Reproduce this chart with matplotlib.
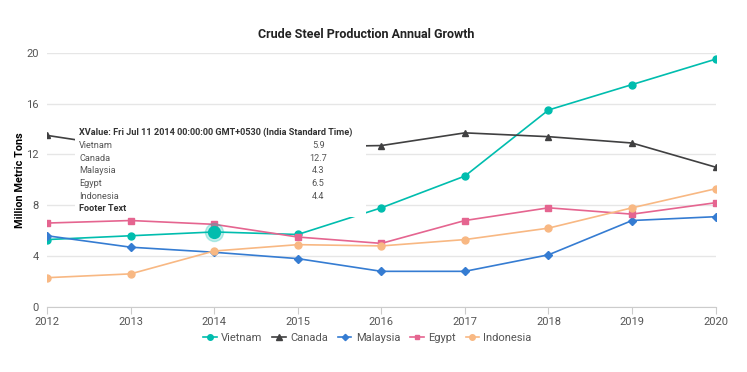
import matplotlib
matplotlib.use("Agg")
import matplotlib.pyplot as plt
from matplotlib.patches import Rectangle

plt.rcParams['font.family'] = ['Roboto', 'DejaVu Sans']

years = [2012, 2013, 2014, 2015, 2016, 2017, 2018, 2019, 2020]
vietnam = [5.3, 5.6, 5.9, 5.7, 7.8, 10.3, 15.5, 17.5, 19.5]
canada = [13.5, 12.5, 12.7, 12.6, 12.7, 13.7, 13.4, 12.9, 11.0]
malaysia = [5.6, 4.7, 4.3, 3.8, 2.8, 2.8, 4.1, 6.8, 7.1]
egypt = [6.6, 6.8, 6.5, 5.5, 5.0, 6.8, 7.8, 7.3, 8.2]
indonesia = [2.3, 2.6, 4.4, 4.9, 4.8, 5.3, 6.2, 7.8, 9.3]

tip_names = ['Vietnam', 'Canada', 'Malaysia', 'Egypt', 'Indonesia']
tip_values = ['5.9', '12.7', '4.3', '6.5', '4.4']
tip_header = 'XValue: Fri Jul 11 2014 00:00:00 GMT+0530 (India Standard Time)'
hover_idx = 2

series = [
    ('Vietnam', vietnam, '#00bdae', 'o', 5),
    ('Canada', canada, '#404041', '^', 5),
    ('Malaysia', malaysia, '#357cd2', 'D', 4),
    ('Egypt', egypt, '#e56590', 's', 4.3),
    ('Indonesia', indonesia, '#f8b883', 'o', 5),
]

fig = plt.figure(figsize=(7.47, 3.72), dpi=100)
ax = fig.add_axes([0.063, 0.175, 0.895, 0.683])

for name, vals, col, mk, ms in series:
    ax.plot(years, vals, color=col, marker=mk, markersize=ms, linewidth=1.2, label=name, zorder=3)

# hovered point
ax.plot(years[hover_idx], vietnam[hover_idx], 'o', color='#00bdae', markersize=13, alpha=0.25, zorder=4)
ax.plot(years[hover_idx], vietnam[hover_idx], 'o', color='#00bdae', markersize=8.5, zorder=4)

ax.set_xlim(2012, 2020)
ax.set_ylim(0, 20)
ax.set_yticks([0, 4, 8, 12, 16, 20])
ax.set_xticks(years)
ax.grid(axis='y', color='#e6e6e6', linewidth=1)
ax.set_axisbelow(True)
for s in ['top', 'right', 'left']:
    ax.spines[s].set_visible(False)
ax.spines['bottom'].set_color('#cccccc')
ax.tick_params(axis='x', colors='#cccccc', length=5, labelcolor='#555555', labelsize=8, pad=2)
ax.tick_params(axis='y', length=0, labelcolor='#555555', labelsize=8, pad=6)
ax.set_ylabel('Million Metric Tons', fontsize=7.8, fontweight='bold', labelpad=1)

fig.text(0.49, 0.907, 'Crude Steel Production Annual Growth', ha='center', va='center',
         fontsize=9, fontweight='bold', color='#222222')

# tooltip
fig.patches.append(Rectangle((0.100, 0.418), 0.39, 0.253, transform=fig.transFigure,
                             facecolor='white', edgecolor='none', zorder=5))
top = 0.643
step = 0.0341
fs = 6.6
fig.text(0.106, top, tip_header, fontsize=fs, fontweight='bold', color='#333333', va='center', zorder=6)
for i, (n, v) in enumerate(zip(tip_names, tip_values)):
    y = top - step * (i + 1)
    fig.text(0.106, y, n, fontsize=fs, color='#555555', va='center', zorder=6)
    fig.text(0.426, y, v, fontsize=fs, color='#555555', va='center', ha='center', zorder=6)
fig.text(0.106, top - step * 6, 'Footer Text', fontsize=fs, fontweight='bold', color='#333333', va='center', zorder=6)

leg = fig.legend(loc='center', bbox_to_anchor=(0.492, 0.092), ncol=5, frameon=False,
                 fontsize=8, handlelength=1.2, columnspacing=0.9, handletextpad=0.4, markerscale=0.8)
for t in leg.get_texts():
    t.set_color('#555555')

fig.savefig('out.png', dpi=100)
